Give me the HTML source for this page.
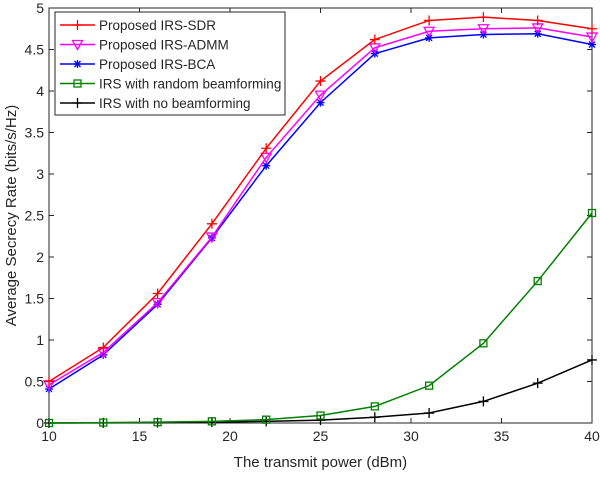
<!DOCTYPE html>
<html><head><meta charset="utf-8"><style>
body{margin:0;background:#fff}
svg text{font-family:"Liberation Sans",sans-serif;fill:#262626}
</style></head><body>
<svg id="c" width="600" height="472" xmlns="http://www.w3.org/2000/svg"></svg>
<script>
const xVals=[10,13,16,19,22,25,28,31,34,37,40];
const sdr=[0.5,0.91,1.56,2.4,3.31,4.12,4.62,4.85,4.89,4.85,4.75];
const admm=[0.46,0.85,1.45,2.24,3.2,3.95,4.52,4.72,4.75,4.76,4.65];
const bca=[0.41,0.82,1.43,2.23,3.1,3.86,4.45,4.64,4.68,4.69,4.56];
const rnd=[0,0.005,0.01,0.02,0.04,0.09,0.2,0.45,0.96,1.71,2.53];
const none=[0,0.002,0.005,0.01,0.02,0.035,0.07,0.12,0.26,0.48,0.76];
const xTicks=[10,15,20,25,30,35,40];
const yTicks=[0,0.5,1,1.5,2,2.5,3,3.5,4,4.5,5];
const seriesNames=["Proposed IRS-SDR","Proposed IRS-ADMM","Proposed IRS-BCA","IRS with random beamforming","IRS with no beamforming"];
const L=49,R=592,T=8,B=423;
const sx=v=>L+(v-10)/30*(R-L), sy=v=>B-v/5*(B-T);
const svg=document.getElementById('c');const NS="http://www.w3.org/2000/svg";
function el(t,a,p){const e=document.createElementNS(NS,t);for(const k in a)e.setAttribute(k,a[k]);(p||svg).appendChild(e);return e;}
const ax=el('g',{});


el('rect',{x:L,y:T,width:R-L,height:B-T,fill:'none',stroke:'#262626','stroke-width':1},ax);
xTicks.forEach(v=>{const x=sx(v);
el('line',{x1:x,x2:x,y1:B,y2:B-5,stroke:'#262626'},ax);el('line',{x1:x,x2:x,y1:T,y2:T+5,stroke:'#262626'},ax);
const t=el('text',{x:x,y:B+18,'text-anchor':'middle','font-size':14},ax);t.textContent=v;

});
yTicks.forEach(v=>{const y=sy(v);
el('line',{x1:L,x2:L+5,y1:y,y2:y,stroke:'#262626'},ax);el('line',{x1:R,x2:R-5,y1:y,y2:y,stroke:'#262626'},ax);
const t=el('text',{x:L-5,y:y+5,'text-anchor':'end','font-size':14},ax);t.textContent=v;

});
const xt=el('text',{x:(L+R)/2,y:467,'text-anchor':'middle','font-size':15});xt.textContent='The transmit power (dBm)';


const yt=el('text',{x:0,y:0,'text-anchor':'middle','font-size':15,transform:`translate(16,${(T+B)/2}) rotate(-90)`});yt.textContent='Average Secrecy Rate (bits/s/Hz)';


function marker(g,type,x,y,c){
 if(type==='plus'){el('path',{d:`M${x-5},${y}h10M${x},${y-5}v10`,stroke:c,'stroke-width':1.3,fill:'none'},g);}
 else if(type==='tri'){el('path',{d:`M${x-5},${y-4}L${x+5},${y-4}L${x},${y+5}Z`,stroke:c,'stroke-width':1.3,fill:'none'},g);}
 else if(type==='star'){el('path',{d:`M${x-4},${y}h8M${x},${y-4}v8M${x-3},${y-3}l6,6M${x-3},${y+3}l6,-6`,stroke:c,'stroke-width':1.3,fill:'none'},g);}
 else if(type==='sq'){el('rect',{x:x-3.5,y:y-3.5,width:7,height:7,stroke:c,'stroke-width':1.3,fill:'none'},g);}
}
const series=[[sdr,'#ff0000','plus'],[admm,'#ff00ff','tri'],[bca,'#0000ff','star'],[rnd,'#008000','sq'],[none,'#000000','plus']];
const order=[4,3,2,1,0];
order.forEach(i=>{const [d,c,m]=series[i];const g=el('g',{});


el('polyline',{points:d.map((v,j)=>sx(xVals[j])+','+sy(v)).join(' '),fill:'none',stroke:c,'stroke-width':1.5},g);
d.forEach((v,j)=>marker(g,m,sx(xVals[j]),sy(v),c));});
const lg=el('g',{});


el('rect',{x:55,y:12,width:230,height:103,fill:'#fff',stroke:'#262626','stroke-width':1},lg);
series.forEach((s,i)=>{const y=25+i*19.5;
el('line',{x1:60,x2:95,y1:y,y2:y,stroke:s[1],'stroke-width':1.5},lg);marker(lg,s[2],77.5,y,s[1]);
const t=el('text',{x:99,y:y+5,'font-size':13.5},lg);t.textContent=seriesNames[i];

});
</script>
</body></html>
